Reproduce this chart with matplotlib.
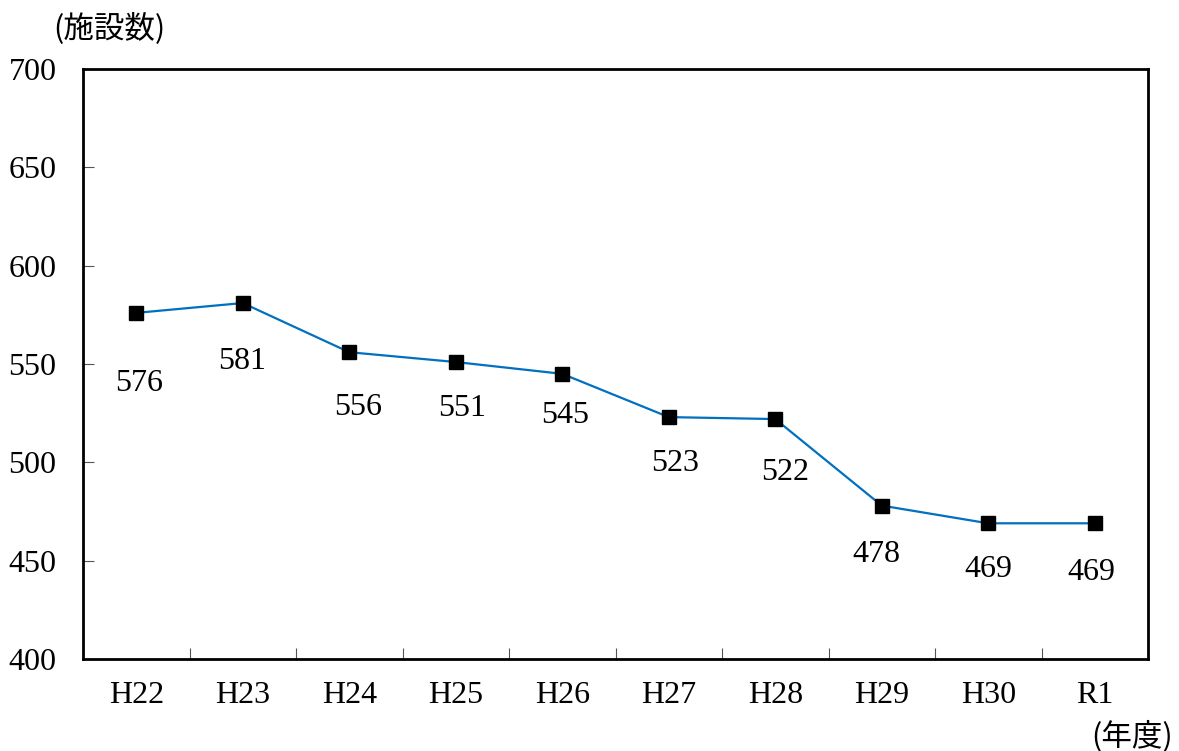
import numpy as np
import matplotlib
matplotlib.use("Agg")
import matplotlib.pyplot as plt

plt.rcParams['font.family'] = ['Liberation Serif', 'Noto Sans CJK JP', 'DejaVu Sans']

# data
years = ['H22', 'H23', 'H24', 'H25', 'H26', 'H27', 'H28', 'H29', 'H30', 'R1']
counts = [576, 581, 556, 551, 545, 523, 522, 478, 469, 469]

# label offsets from each point (pixels, x right / y down)
lab_dx = [3, -1, 9, 6, 3, 6, 10, -5, 0, -3]
lab_dy = [71, 58, 55, 46, 42, 46, 53, 49, 46, 49]

fig = plt.figure(figsize=(11.79, 7.51), dpi=100)
ax = fig.add_axes([83/1179, 1 - 659/751, (1148-83)/1179, (659-69)/751])

x = np.arange(len(years))
ax.plot(x, counts, color='#0070C0', lw=1.6, marker='s', markersize=10,
        markerfacecolor='black', markeredgecolor='black', zorder=3)

for i, v in enumerate(counts):
    ax.annotate(str(v), (x[i], v), xytext=(lab_dx[i], -lab_dy[i]),
                textcoords='offset pixels', ha='center', va='center', fontsize=23)

ax.set_xlim(-0.5, len(years) - 0.5)
ax.set_ylim(400, 700)
ax.set_yticks(np.arange(400, 701, 50))
ax.set_xticks(x)
ax.set_xticklabels(years)
ax.set_xticks(np.arange(0.5, len(years) - 1, 1), minor=True)
ax.tick_params(axis='x', which='major', length=0, pad=16, labelsize=23)
ax.tick_params(axis='x', which='minor', direction='in', length=8, width=0.8, color='#555555')
ax.tick_params(axis='y', direction='in', length=8, width=0.8, color='#555555', pad=19, labelsize=23)

for s in ax.spines.values():
    s.set_linewidth(2)
    s.set_color('black')

fig.text(53/1179, 1 - 28/751, '(施設数)', fontsize=22, va='center', ha='left',
         family=['Noto Sans CJK JP'])
fig.text(1173/1179, 1 - 737/751, '(年度)', fontsize=22, va='center', ha='right',
         family=['Noto Sans CJK JP'])

fig.savefig('out.png', dpi=100)
